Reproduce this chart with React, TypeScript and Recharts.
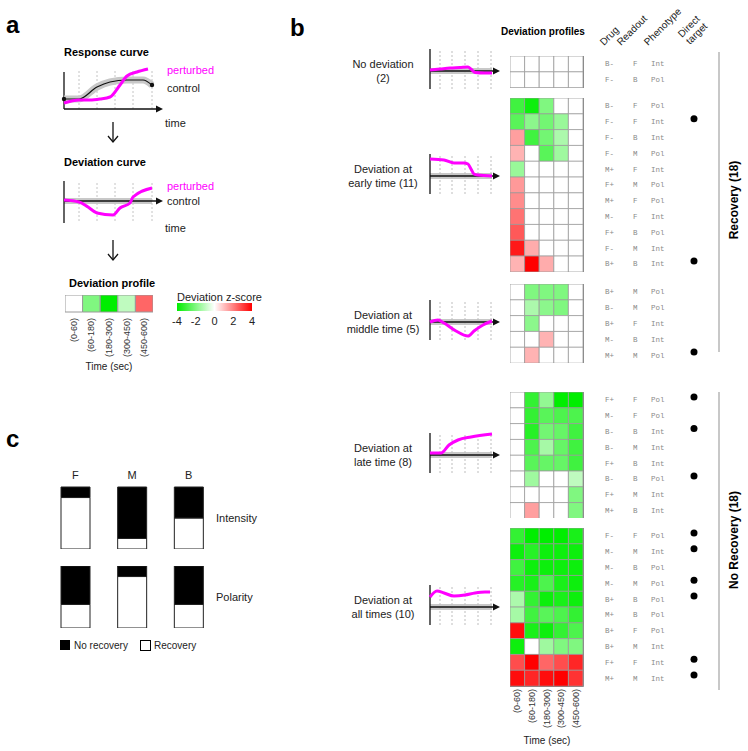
import React from 'react';
import { BarChart, Bar, XAxis, YAxis, Cell, LineChart, Line, ReferenceLine, ReferenceArea, ReferenceDot } from 'recharts';

const FONT = 'Liberation Sans, Arial, sans-serif';
const MONO = 'Liberation Mono, Courier New, monospace';
const MAGENTA = '#ff00ff';

const TIME_BINS = ['(0-60)', '(60-180)', '(180-300)', '(300-450)', '(450-600)'];

// ---------- Panel a ----------
const controlCurve = [{ x: 0, y: 10 }, { x: 15, y: 10 }, { x: 33, y: 22 }, { x: 46, y: 27 }, { x: 63, y: 29 }, { x: 79, y: 29 }, { x: 88, y: 24 }];
const perturbedCurve = [{ x: 0, y: 6 }, { x: 15, y: 9 }, { x: 26, y: 9 }, { x: 36, y: 10 }, { x: 46, y: 12 }, { x: 56, y: 24 }, { x: 63, y: 33 }, { x: 73, y: 37 }, { x: 84, y: 40 }];
const deviationCurve = [{ x: 0, y: 1 }, { x: 15, y: -1 }, { x: 24, y: -6 }, { x: 33, y: -12 }, { x: 49, y: -14 }, { x: 56, y: -7 }, { x: 66, y: -2 }, { x: 69, y: 4 }, { x: 88, y: 13 }];
const gridA = [15, 33, 51, 69, 88];
const profileZ = [0, -2, -4, -1, 2.4];
const zTicks = [-4, -2, 0, 2, 4];

// ---------- Panel b ----------
const groupTitles = [
  ['No deviation', '(2)'],
  ['Deviation at', 'early time (11)'],
  ['Deviation at', 'middle time (5)'],
  ['Deviation at', 'late time (8)'],
  ['Deviation at', 'all times (10)'],
];
const groupArrowY = [71, 176, 322, 455, 607];
const groupTop = [56, 98, 284, 392, 528];

const noDevCurve = [{ x: 0, y: 1 }, { x: 10, y: 2 }, { x: 20, y: 3 }, { x: 30, y: 3.5 }, { x: 38, y: 4 }, { x: 41, y: 2 }, { x: 45, y: -1.5 }, { x: 55, y: -2 }, { x: 62, y: -2 }];
const earlyCurve = [{ x: 0, y: 17 }, { x: 14, y: 16 }, { x: 24, y: 13 }, { x: 34, y: 13 }, { x: 38, y: 12 }, { x: 41, y: 7 }, { x: 44, y: 2 }, { x: 48, y: 1 }, { x: 62, y: 0 }];
const middleCurve = [{ x: 0, y: 0 }, { x: 8, y: 2 }, { x: 14, y: -1 }, { x: 26, y: -9 }, { x: 38, y: -14 }, { x: 44, y: -9 }, { x: 53, y: -3 }, { x: 62, y: 1 }];
const lateCurve = [{ x: 0, y: 2 }, { x: 11, y: 2 }, { x: 19, y: 10 }, { x: 28, y: 15 }, { x: 41, y: 18 }, { x: 62, y: 21 }];
const allCurve = [{ x: 0, y: 10 }, { x: 7, y: 16 }, { x: 14, y: 14 }, { x: 24, y: 11 }, { x: 35, y: 12 }, { x: 45, y: 14 }, { x: 55, y: 15 }, { x: 60, y: 15 }];
const miniCurves = [noDevCurve, earlyCurve, middleCurve, lateCurve, allCurve];
const gridB = [10, 22, 35, 48, 61];

const noDevDrug = ['B-', 'F-'];
const noDevReadout = ['F', 'B'];
const noDevPheno = ['Int', 'Pol'];
const noDevTarget = [0, 0];
const noDevZ = [[0, 0, 0, 0, 0], [0, 0, 0, 0, 0]];

const earlyDrug = ['B-', 'F-', 'F-', 'F-', 'M+', 'F+', 'M+', 'M-', 'F+', 'F-', 'B+'];
const earlyReadout = ['F', 'F', 'B', 'M', 'F', 'M', 'F', 'F', 'B', 'M', 'B'];
const earlyPheno = ['Pol', 'Int', 'Int', 'Pol', 'Int', 'Pol', 'Pol', 'Int', 'Pol', 'Int', 'Int'];
const earlyTarget = [0, 1, 0, 0, 0, 0, 0, 0, 0, 0, 1];
const earlyZ = [
  [-3, -3.8, -2, 0, 0],
  [-2.6, -1.8, -2.2, -1.6, 0],
  [1.5, -3, -2.2, -1.3, 0],
  [1.2, 0, -2.6, -1.5, 0],
  [-1.6, 0, 0, 0, 0],
  [1.6, 0, 0, 0, 0],
  [1.8, 0, 0, 0, 0],
  [2.2, 0, 0, 0, 0],
  [2.6, 0, 0, 0, 0],
  [3.6, 1.3, 0, 0, 0],
  [1.2, 4, 1.3, 0, 0],
];

const middleDrug = ['B+', 'B-', 'B+', 'M-', 'M+'];
const middleReadout = ['M', 'M', 'F', 'B', 'M'];
const middlePheno = ['Pol', 'Pol', 'Int', 'Int', 'Pol'];
const middleTarget = [0, 0, 0, 0, 1];
const middleZ = [
  [0, -2, -2, -2, 0],
  [0, -1.3, -1.8, -2, 0],
  [0, -1.8, 0, 0, 0],
  [0, 0, 1.2, 0, 0],
  [0, 1.2, 0, 0, 0],
];

const lateDrug = ['F+', 'M-', 'B-', 'B-', 'F+', 'B-', 'F+', 'M+'];
const lateReadout = ['F', 'F', 'B', 'M', 'B', 'B', 'M', 'B'];
const latePheno = ['Pol', 'Pol', 'Int', 'Int', 'Int', 'Pol', 'Int', 'Int'];
const lateTarget = [1, 0, 1, 0, 0, 1, 0, 0];
const lateZ = [
  [0, -3.2, -1.7, -4, -4],
  [0, -3.2, -2.6, -2.8, -2.8],
  [0, -3.4, -2.2, -2.4, -3],
  [0, -2.8, -1.4, -2.4, -3],
  [0, -2.6, -2.4, -2.4, -3],
  [0, -1.5, 0, 0, -1],
  [0, 0, 0, 0, -2],
  [0, 1.5, 0, 0, -2],
];

const allDrug = ['F-', 'M-', 'M-', 'M-', 'B+', 'M+', 'B+', 'B+', 'F+', 'M+'];
const allReadout = ['F', 'M', 'B', 'M', 'B', 'B', 'F', 'M', 'F', 'M'];
const allPheno = ['Pol', 'Int', 'Pol', 'Pol', 'Pol', 'Pol', 'Pol', 'Int', 'Int', 'Int'];
const allTarget = [1, 1, 0, 1, 1, 0, 0, 0, 1, 1];
const allZ = [
  [-3.2, -4, -4, -4, -3.6],
  [-3.8, -3.4, -3.8, -3.8, -3.8],
  [-3, -3.8, -3.8, -3.8, -3.8],
  [-3.4, -3.6, -2.8, -3.6, -3.8],
  [-1.3, -3.2, -3.8, -3.6, -3.8],
  [-1.4, -3, -2.6, -2.8, -3.2],
  [3.8, -3.6, -3.8, -3.2, -2.8],
  [-3.8, 0, -1.5, -2, -2],
  [2.8, 4, 2.4, 2.8, 3.4],
  [3.8, 3.4, 3.8, 4, 3.2],
];

// ---------- Panel c ----------
const readouts = ['F', 'M', 'B'];
const intensityNoRecovery = [0.17, 0.83, 0.5];
const polarityNoRecovery = [0.62, 0.17, 0.62];

// ---------- helpers ----------
const ROW_H = 15.8;

function zColor(z: number) {
  const t = Math.max(-1, Math.min(1, z / 4));
  let r, g, b;
  if (t < 0) {
    const a = -t;
    r = 255 * (1 - a);
    g = 255 - (255 - 238) * a;
    b = 255 * (1 - a);
  } else {
    r = 255;
    g = 255 * (1 - t);
    b = 255 * (1 - t);
  }
  return `rgb(${Math.round(r)},${Math.round(g)},${Math.round(b)})`;
}

const ArrowHead = (props: any) => {
  const { cx, cy } = props;
  return <polygon points={`${cx},${cy} ${cx - 7},${cy - 3.5} ${cx - 7},${cy + 3.5}`} fill="#111" />;
};

const EndDot = (props: any) => <circle cx={props.cx} cy={props.cy} r={2.2} fill="#111" />;

const makeRotTick = (shift: number) => (props: any) => {
  const { x, payload } = props;
  const y = props.y + shift;
  const label = TIME_BINS[Math.floor(payload.value)];
  return (
    <text x={x} y={y} transform={`rotate(-90 ${x} ${y})`} textAnchor="end" dy={3} fontSize={9} fill="#333" fontFamily={FONT}>
      {label}
    </text>
  );
};
const HeatTick = makeRotTick(-5);
const ProfileTick = makeRotTick(-2);

function Heatmap({ drug, readout, pheno, target, z, top, showX }: any) {
  const data = drug.map((d: string, i: number) => ({ id: String(i), c0: 1, c1: 1, c2: 1, c3: 1, c4: 1 }));
  const h = drug.length * ROW_H;
  const xH = showX ? 48 : 0;
  const RowTick = (p: any) => {
    const i = Number(p.payload.value);
    const y = p.y;
    return (
      <g>
        <text x={95} y={y + 2.5} fontSize={7.5} fill="#8a8a8a" fontFamily={MONO}>{drug[i]}</text>
        <text x={123} y={y + 2.5} fontSize={7.5} fill="#8a8a8a" fontFamily={MONO}>{readout[i]}</text>
        <text x={141} y={y + 2.5} fontSize={7.5} fill="#8a8a8a" fontFamily={MONO}>{pheno[i]}</text>
        {target[i] ? <circle cx={184} cy={y - 3} r={3.5} fill="#000" /> : null}
      </g>
    );
  };
  return (
    <div style={{ position: 'absolute', left: 510, top }}>
      <BarChart width={213} height={h + xH} data={data} layout="vertical" margin={{ top: 0, right: 0, bottom: 0, left: 0 }} barCategoryGap={0}>
        <XAxis type="number" domain={[0, 5]} ticks={[0.5, 1.5, 2.5, 3.5, 4.5]} hide={!showX} axisLine={false} tickLine={false} height={xH} tick={<HeatTick />} interval={0} />
        <YAxis type="category" dataKey="id" orientation="right" width={140} axisLine={false} tickLine={false} interval={0} tick={<RowTick />} />
        {[0, 1, 2, 3, 4].map((j) => (
          <Bar key={j} dataKey={`c${j}`} stackId="s" isAnimationActive={false} stroke="#9a9a9a" strokeWidth={0.8}>
            {data.map((d: any, i: number) => (
              <Cell key={i} fill={zColor(z[i][j])} />
            ))}
          </Bar>
        ))}
        <ReferenceArea x1={0} x2={5} fill="none" fillOpacity={0} stroke="#444" strokeWidth={1.3} ifOverflow="visible" />
      </BarChart>
    </div>
  );
}

function MiniDev({ data, axisY }: any) {
  const M = 6;
  return (
    <div style={{ position: 'absolute', left: 430 - M, top: axisY - 24 - M }}>
      <LineChart width={72 + 2 * M} height={44 + 2 * M} data={data} margin={{ top: M, right: M, bottom: M, left: M }}>
        <XAxis type="number" dataKey="x" domain={[0, 72]} hide />
        <YAxis type="number" domain={[-20, 24]} hide />
        <ReferenceArea x1={0} x2={62} y1={-3} y2={3} fill="#c8c8c8" fillOpacity={1} stroke="none" />
        {gridB.map((g) => (
          <ReferenceLine key={g} segment={[{ x: g, y: -18 }, { x: g, y: 22 }]} stroke="#bdbdbd" strokeDasharray="2 2" />
        ))}
        <ReferenceLine segment={[{ x: 0, y: -18 }, { x: 0, y: 22 }]} stroke="#111" strokeWidth={1.3} />
        <ReferenceLine segment={[{ x: 0, y: 0 }, { x: 65, y: 0 }]} stroke="#111" strokeWidth={1.5} />
        <ReferenceDot x={70} y={0} r={0} shape={ArrowHead} ifOverflow="visible" />
        <Line dataKey="y" stroke={MAGENTA} strokeWidth={3} dot={false} isAnimationActive={false} type="monotone" />
      </LineChart>
    </div>
  );
}

function StackPanel({ values, top, showLabels }: any) {
  const data = readouts.map((k, i) => ({ k, nr: values[i], r: 1 - values[i] }));
  const xH = showLabels ? 18 : 0;
  return (
    <div style={{ position: 'absolute', left: 47, top: top - xH }}>
      <BarChart width={170} height={62 + xH} data={data} margin={{ top: 0, right: 0, bottom: 0, left: 0 }} barSize={29}>
        <XAxis dataKey="k" orientation="top" hide={!showLabels} axisLine={false} tickLine={false} height={xH} tick={{ fontSize: 11, fill: '#222', fontFamily: FONT }} />
        <YAxis hide domain={[0, 1]} />
        <Bar dataKey="r" stackId="s" fill="#fff" stroke="#222" strokeWidth={1} isAnimationActive={false} />
        <Bar dataKey="nr" stackId="s" fill="#000" stroke="#222" strokeWidth={1} isAnimationActive={false} />
      </BarChart>
    </div>
  );
}

const T = ({ x, y, children, size = 11, weight = 'normal', anchor = 'start', fill = '#222', rotate }: any) => (
  <text x={x} y={y} fontSize={size} fontWeight={weight} textAnchor={anchor} fill={fill} fontFamily={FONT} transform={rotate !== undefined ? `rotate(${rotate} ${x} ${y})` : undefined}>
    {children}
  </text>
);

const DownArrow = ({ x, y1, y2 }: any) => (
  <g stroke="#111" strokeWidth={1.3} fill="none">
    <line x1={x} y1={y1} x2={x} y2={y2} />
    <polyline points={`${x - 5},${y2 - 6} ${x},${y2} ${x + 5},${y2 - 6}`} />
  </g>
);

export default function App() {
  const M = 6;
  const profData = [{ id: 'p', c0: 1, c1: 1, c2: 1, c3: 1, c4: 1 }];
  const groups = [
    [noDevDrug, noDevReadout, noDevPheno, noDevTarget, noDevZ],
    [earlyDrug, earlyReadout, earlyPheno, earlyTarget, earlyZ],
    [middleDrug, middleReadout, middlePheno, middleTarget, middleZ],
    [lateDrug, lateReadout, latePheno, lateTarget, lateZ],
    [allDrug, allReadout, allPheno, allTarget, allZ],
  ];
  return (
    <div style={{ position: 'absolute', left: 0, top: 0, width: 748, height: 751, background: '#fff', overflow: 'hidden', fontFamily: FONT }}>
      <svg width={748} height={751} style={{ position: 'absolute', left: 0, top: 0 }}>
        {/* panel letters */}
        <T x={6} y={33} size={24} weight="bold" fill="#000">a</T>
        <T x={290} y={36} size={24} weight="bold" fill="#000">b</T>
        <T x={6} y={447} size={24} weight="bold" fill="#000">c</T>

        {/* panel a text */}
        <T x={64} y={56} weight="bold" fill="#000">Response curve</T>
        <T x={167} y={74} fill={MAGENTA}>perturbed</T>
        <T x={167} y={92}>control</T>
        <T x={165} y={127}>time</T>
        <DownArrow x={113} y1={122} y2={142} />
        <T x={64} y={166} weight="bold" fill="#000">Deviation curve</T>
        <T x={167} y={190} fill={MAGENTA}>perturbed</T>
        <T x={167} y={205}>control</T>
        <T x={165} y={232}>time</T>
        <DownArrow x={113} y1={240} y2={260} />
        <T x={69} y={287} weight="bold" fill="#000">Deviation profile</T>
        <T x={109} y={370} size={10} anchor="middle">Time (sec)</T>
        <T x={177} y={301}>Deviation z-score</T>

        {/* panel b text */}
        <T x={501} y={35} size={10} weight="bold" fill="#000">Deviation profiles</T>
        <T x={604} y={46} size={10} rotate={-45}>Drug</T>
        <T x={621} y={46} size={10} rotate={-45}>Readout</T>
        <T x={648} y={46} size={10} rotate={-45}>Phenotype</T>
        <T x={682} y={38} size={10} rotate={-45}>Direct</T>
        <T x={690} y={45} size={10} rotate={-45}>target</T>
        {groupTitles.map((t, i) => (
          <g key={i}>
            <T x={383} y={groupArrowY[i] - 3} anchor="middle">{t[0]}</T>
            <T x={383} y={groupArrowY[i] + 11} anchor="middle">{t[1]}</T>
          </g>
        ))}
        <T x={547} y={744} size={10} anchor="middle">Time (sec)</T>
        <rect x={718} y={52} width={2} height={300} fill="#c8c8c8" />
        <rect x={718} y={392} width={2} height={298} fill="#c8c8c8" />
        <T x={738} y={200} size={12} weight="bold" anchor="middle" rotate={-90} fill="#000">Recovery (18)</T>
        <T x={738} y={540} size={12} weight="bold" anchor="middle" rotate={-90} fill="#000">No Recovery (18)</T>

        {/* panel c text */}
        <T x={216} y={522}>Intensity</T>
        <T x={216} y={601}>Polarity</T>
        <rect x={60} y={640} width={10} height={10} fill="#000" />
        <T x={74} y={649} size={10}>No recovery</T>
        <rect x={140.5} y={640.5} width={10} height={10} fill="#fff" stroke="#000" />
        <T x={154} y={649} size={10}>Recovery</T>
      </svg>

      {/* Panel a: response curve */}
      <div style={{ position: 'absolute', left: 64 - M, top: 66 - M }}>
        <LineChart width={101 + 2 * M} height={43 + 2 * M} margin={{ top: M, right: M, bottom: M, left: M }}>
          <XAxis type="number" dataKey="x" domain={[0, 101]} hide />
          <YAxis type="number" domain={[0, 43]} hide />
          {gridA.map((g) => (
            <ReferenceLine key={g} segment={[{ x: g, y: 0 }, { x: g, y: 38 }]} stroke="#c4c4c4" strokeDasharray="2 2" />
          ))}
          <ReferenceLine segment={[{ x: 0, y: 0 }, { x: 0, y: 37 }]} stroke="#111" strokeWidth={1.3} />
          <ReferenceLine segment={[{ x: 0, y: 0 }, { x: 94, y: 0 }]} stroke="#111" strokeWidth={1.5} />
          <ReferenceDot x={99} y={0} r={0} shape={ArrowHead} ifOverflow="visible" />
          <Line data={controlCurve} dataKey="y" stroke="#c8c8c8" strokeWidth={7} dot={false} type="monotone" isAnimationActive={false} />
          <Line data={controlCurve} dataKey="y" stroke="#111" strokeWidth={1.2} dot={false} type="monotone" isAnimationActive={false} />
          <Line data={perturbedCurve} dataKey="y" stroke={MAGENTA} strokeWidth={3} dot={false} type="monotone" isAnimationActive={false} />
          <ReferenceDot x={0} y={10} r={2} shape={EndDot} ifOverflow="visible" />
          <ReferenceDot x={88} y={24} r={2} shape={EndDot} ifOverflow="visible" />
        </LineChart>
      </div>

      {/* Panel a: deviation curve */}
      <div style={{ position: 'absolute', left: 64 - M, top: 179 - M }}>
        <LineChart width={101 + 2 * M} height={46 + 2 * M} data={deviationCurve} margin={{ top: M, right: M, bottom: M, left: M }}>
          <XAxis type="number" dataKey="x" domain={[0, 101]} hide />
          <YAxis type="number" domain={[-24, 22]} hide />
          <ReferenceArea x1={0} x2={88} y1={-3} y2={3} fill="#c8c8c8" fillOpacity={1} stroke="none" />
          {gridA.map((g) => (
            <ReferenceLine key={g} segment={[{ x: g, y: -20 }, { x: g, y: 20 }]} stroke="#c4c4c4" strokeDasharray="2 2" />
          ))}
          <ReferenceLine segment={[{ x: 0, y: -22 }, { x: 0, y: 20 }]} stroke="#111" strokeWidth={1.3} />
          <ReferenceLine segment={[{ x: 0, y: 0 }, { x: 94, y: 0 }]} stroke="#111" strokeWidth={1.5} />
          <ReferenceDot x={99} y={0} r={0} shape={ArrowHead} ifOverflow="visible" />
          <Line dataKey="y" stroke={MAGENTA} strokeWidth={3} dot={false} type="monotone" isAnimationActive={false} />
        </LineChart>
      </div>

      {/* Panel a: deviation profile */}
      <div style={{ position: 'absolute', left: 65, top: 295 }}>
        <BarChart width={88} height={17 + 48} data={profData} layout="vertical" margin={{ top: 0, right: 0, bottom: 0, left: 0 }} barCategoryGap={0}>
          <XAxis type="number" domain={[0, 5]} ticks={[0.5, 1.5, 2.5, 3.5, 4.5]} axisLine={false} tickLine={false} height={48} tick={<ProfileTick />} interval={0} />
          <YAxis type="category" dataKey="id" hide />
          {[0, 1, 2, 3, 4].map((j) => (
            <Bar key={j} dataKey={`c${j}`} stackId="s" isAnimationActive={false} stroke="#9a9a9a" strokeWidth={1} fill={zColor(profileZ[j])} />
          ))}
        </BarChart>
      </div>

      {/* Panel a: color bar */}
      <div style={{ position: 'absolute', left: 177 - 12, top: 303 }}>
        <BarChart width={75 + 24} height={8 + 24} data={[{ n: 'z', v: [-4, 4] }]} layout="vertical" margin={{ top: 0, right: 12, bottom: 0, left: 12 }} barCategoryGap={0}>
          <defs>
            <linearGradient id="zgrad" x1="0" y1="0" x2="1" y2="0">
              {[-4, -3, -2, -1, 0, 1, 2, 3, 4].map((z) => (
                <stop key={z} offset={`${((z + 4) / 8) * 100}%`} stopColor={zColor(z)} />
              ))}
            </linearGradient>
          </defs>
          <XAxis type="number" domain={[-4, 4]} ticks={zTicks} axisLine={false} tickLine={false} height={24} tick={{ fontSize: 11, fill: '#222', fontFamily: FONT }} tickMargin={0} interval={0} />
          <YAxis type="category" dataKey="n" hide />
          <Bar dataKey="v" fill="url(#zgrad)" isAnimationActive={false} />
        </BarChart>
      </div>

      {/* Panel b: mini deviation curves */}
      {miniCurves.map((c, i) => (
        <MiniDev key={i} data={c} axisY={groupArrowY[i]} />
      ))}

      {/* Panel b: heatmaps */}
      {groups.map((g, i) => (
        <Heatmap key={i} drug={g[0]} readout={g[1]} pheno={g[2]} target={g[3]} z={g[4]} top={groupTop[i]} showX={i === 4} />
      ))}

      {/* Panel c */}
      <StackPanel values={intensityNoRecovery} top={487} showLabels />
      <StackPanel values={polarityNoRecovery} top={566} showLabels={false} />
    </div>
  );
}
